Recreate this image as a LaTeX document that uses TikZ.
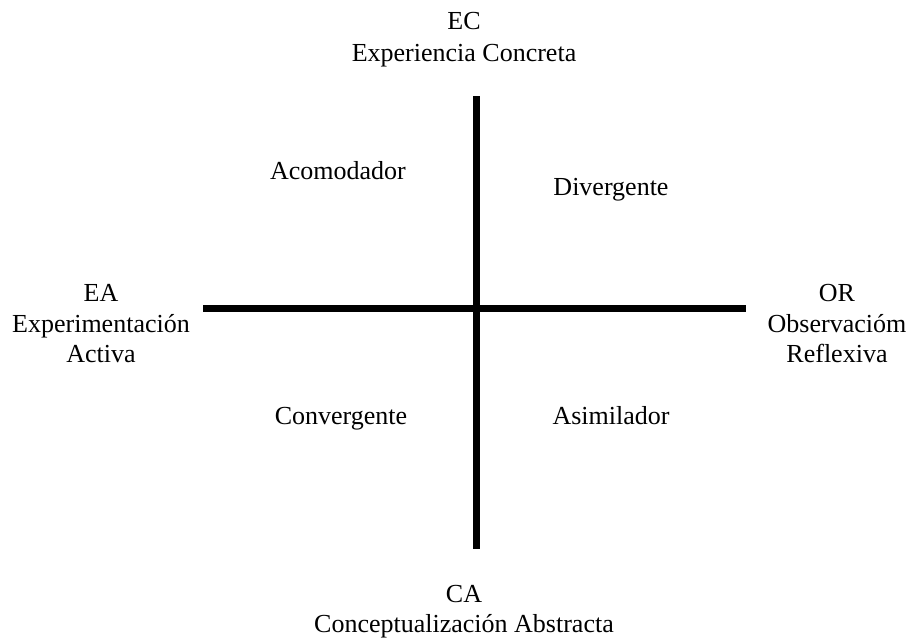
\documentclass[tikz,border=0pt]{standalone}
\usepackage{fontspec}
\setmainfont{Liberation Serif}
\begin{document}
\begin{tikzpicture}[x=1pt,y=-1pt,
  lbl/.style={font=\fontsize{26}{30}\selectfont, anchor=base, inner sep=0pt},
  axis/.style={line width=7pt}]
\useasboundingbox (0,0) rectangle (913,642);
\coordinate (top) at (476.5,96);
\coordinate (bot) at (476.5,549);
\coordinate (left) at (203,308);
\coordinate (right) at (746,308);
\draw[axis] (top) -- (bot);
\draw[axis] (left) -- (right);
\node[lbl] (ec) at (464,30) {EC};
\node[lbl] (ec2) at (464,62) {Experiencia Concreta};
\node[lbl] (ca) at (464,602) {CA};
\node[lbl] (ca2) at (464,632) {Conceptualización Abstracta};
\node[lbl] (ea) at (101,301) {EA};
\node[lbl] (ea2) at (101,332) {Experimentación};
\node[lbl] (ea3) at (101,362) {Activa};
\node[lbl] (or) at (837,301) {OR};
\node[lbl] (or2) at (837,332) {Observacióm};
\node[lbl] (or3) at (837,362) {Reflexiva};
\node[lbl] (acom) at (338,179) {Acomodador};
\node[lbl] (div) at (611,195) {Divergente};
\node[lbl] (conv) at (341,424) {Convergente};
\node[lbl] (asim) at (611,424) {Asimilador};
\end{tikzpicture}
\end{document}
